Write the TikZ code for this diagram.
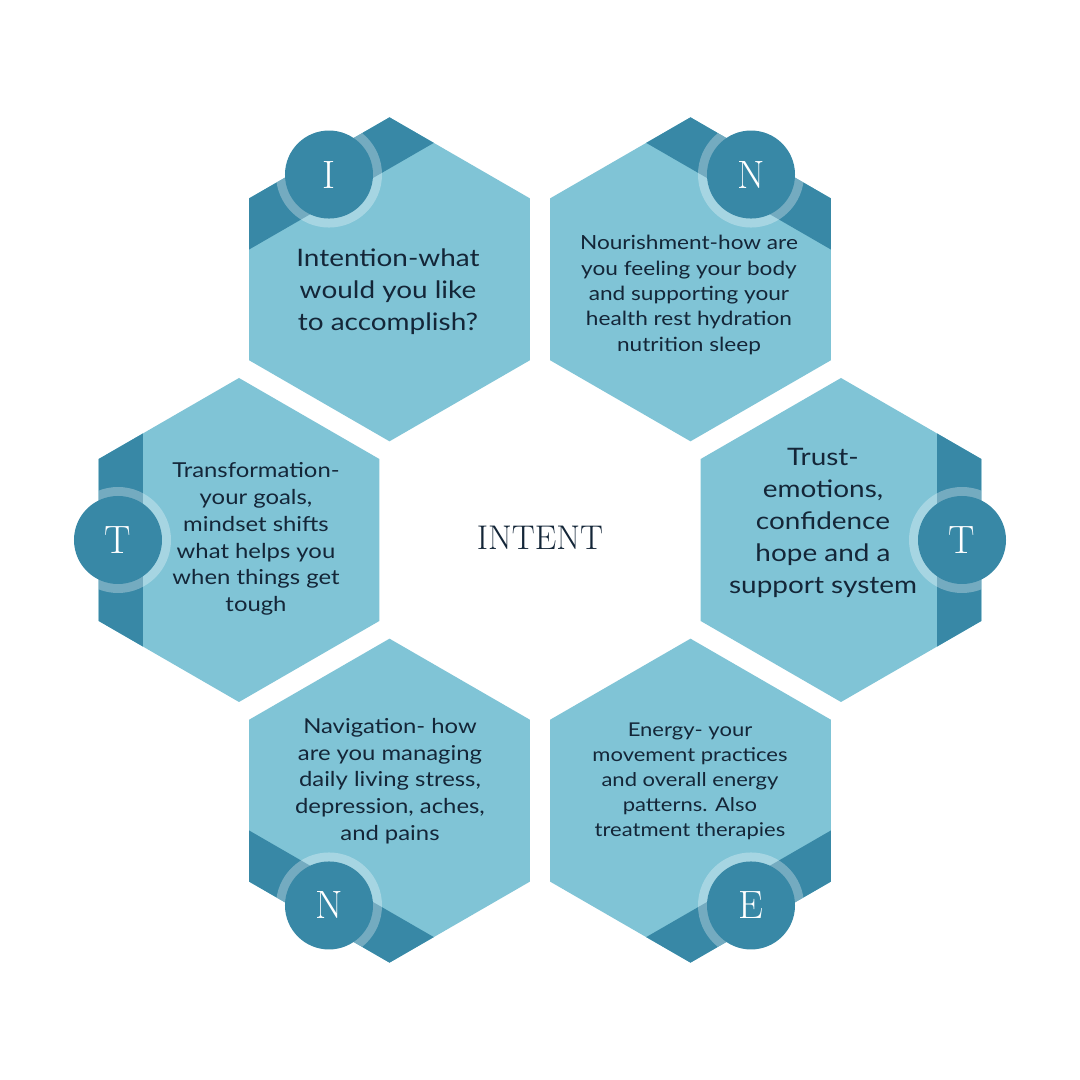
\documentclass[tikz,border=0pt]{standalone}
\usepackage{fontspec}
\newfontfamily\hexfont[FakeStretch=1.16]{Lato}
\definecolor{HexLight}{RGB}{128,196,214}
\definecolor{HexDark}{RGB}{56,136,166}
\definecolor{InkNavy}{RGB}{20,38,56}
\usepackage{tikz}
\usetikzlibrary{positioning}
\tikzset{
  hexshape/.style={insert path={(30:162) -- (90:162) -- (150:162) -- (210:162) -- (270:162) -- (330:162) -- cycle}},
  hexcell/.style={fill=HexLight},
  hexband/.style={fill=HexDark},
  halo/.style={fill=white, fill opacity=.3},
  badge/.style={circle, fill=HexDark, minimum size=17.6mm, inner sep=0pt, text=white,
                font=\fontsize{22.5}{22.5}\selectfont},
  hextext/.style 2 args={align=center, text=InkNavy, font=\hexfont\fontsize{#1}{#2}\selectfont},
}

\begin{document}
\begin{tikzpicture}[x=0.2mm, y=0.2mm]
  \fill[white] (-540,-540) rectangle (540,540);
  \useasboundingbox (-540,-540) rectangle (540,540);

  % six cells round the middle, band and badge on the outer side
  \foreach \ang/\ltr/\nm in {120/I/i, 60/N/n1, 0/T/t2, 300/E/e, 240/N/n2, 180/T/t1} {
    \begin{scope}[shift={(\ang:301)}]
      \fill[hexcell, hexshape];
      \begin{scope}
        \clip[hexshape];
        \fill[hexband, rotate=\ang] (96,-200) rectangle (200,200);
        \fill[halo] (\ang:121) circle (53);
      \end{scope}
      \node[badge] (b-\nm) at (\ang:121) {\ltr};
    \end{scope}
  }

  \node[text=InkNavy, font=\fontsize{19.5}{19.5}\selectfont] (core) at (0,2)
    {\addfontfeature{LetterSpace=6}INTENT};

  \node[hextext={13.7}{18.2}] (t-i) at (-152,248)
    {Intention-what\\would you like\\to accomplish?};
  \node[hextext={11.1}{14.5}] (t-n1) at (149,245)
    {Nourishment-how are\\you feeling your body\\and supporting your\\health rest hydration\\nutrition sleep};
  \node[hextext={13.7}{18.2}] (t-t2) at (283,17)
    {Trust-\\emotions,\\confidence\\hope and a\\support system};
  \node[hextext={11.7}{15.2}] (t-t1) at (-284,1)
    {Transformation-\\your goals,\\mindset shifts\\what helps you\\when things get\\tough};
  \node[hextext={11.7}{15.2}] (t-n2) at (-150,-241)
    {Navigation- how\\are you managing\\daily living stress,\\depression, aches,\\and pains};
  \node[hextext={10.8}{14.2}] (t-e) at (150,-241)
    {Energy- your\\movement practices\\and overall energy\\patterns. Also\\treatment therapies};
\end{tikzpicture}
\end{document}
